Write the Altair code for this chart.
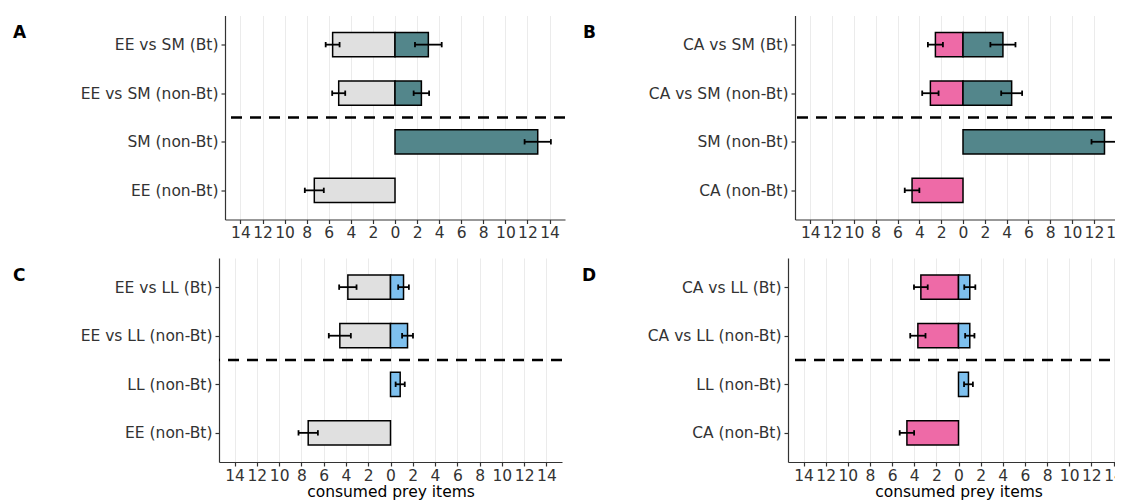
import altair as alt
import pandas as pd

# ---------------- data ----------------
species_all = ["EE", "SM", "CA", "LL"]
colors_all = ["#E0E0E0", "#53868B", "#EE6AA7", "#7EC0EE"]

# Panel A
a_labels = ["EE vs SM (Bt)", "EE vs SM (non-Bt)", "SM (non-Bt)", "EE (non-Bt)"]
a_left_mean = [-5.65, -5.10, None, -7.31]
a_left_se = [0.63, 0.59, None, 0.86]
a_right_mean = [3.02, 2.39, 12.93, None]
a_right_se = [1.21, 0.70, 1.19, None]

# Panel B
b_labels = ["CA vs SM (Bt)", "CA vs SM (non-Bt)", "SM (non-Bt)", "CA (non-Bt)"]
b_left_mean = [-2.53, -2.99, None, -4.67]
b_left_se = [0.69, 0.75, None, 0.67]
b_right_mean = [3.66, 4.46, 12.97, None]
b_right_se = [1.15, 0.96, 1.19, None]

# Panel C
c_labels = ["EE vs LL (Bt)", "EE vs LL (non-Bt)", "LL (non-Bt)", "EE (non-Bt)"]
c_left_mean = [-3.83, -4.55, None, -7.39]
c_left_se = [0.78, 0.99, None, 0.87]
c_right_mean = [1.17, 1.53, 0.87, None]
c_right_se = [0.48, 0.49, 0.41, None]

# Panel D
d_labels = ["CA vs LL (Bt)", "CA vs LL (non-Bt)", "LL (non-Bt)", "CA (non-Bt)"]
d_left_mean = [-3.40, -3.67, None, -4.66]
d_left_se = [0.62, 0.69, None, 0.65]
d_right_mean = [1.02, 1.02, 0.90, None]
d_right_se = [0.50, 0.42, 0.40, None]

x_ticks = list(range(-14, 15, 2))
x_limits = [-15.4, 15.4]
n_single = 2  # single-species rows below the dashed separator
FONT = "DejaVu Sans"


def panel(letter, labels, left_sp, left_m, left_se, right_sp, right_m, right_se,
          width, height, letter_x, xtitle):
    n = len(labels)
    recs = []
    for i, lab in enumerate(labels):
        pos = n - i
        for sp, m, se in ((left_sp, left_m[i], left_se[i]),
                          (right_sp, right_m[i], right_se[i])):
            if m is None:
                continue
            recs.append(dict(row=pos, label=lab, species=sp, mean=m,
                             lo=m - se, hi=m + se))
    df = pd.DataFrame(recs)

    label_expr = "[" + ",".join(["''"] + ["'" + l + "'" for l in reversed(labels)]) + "][datum.value]"
    xscale = alt.Scale(domain=x_limits, nice=False, zero=False)
    yscale = alt.Scale(domain=[0.4, n + 0.6], nice=False, zero=False)

    xaxis_kw = dict(values=x_ticks, labelExpr="format(abs(datum.value), 'd')",
                    grid=True, labelOverlap=False, labelFlush=False)
    if xtitle:
        xaxis = alt.Axis(title=xtitle, **xaxis_kw)
    else:
        xaxis = alt.Axis(title=None, **xaxis_kw)
    yaxis = alt.Axis(values=list(range(1, n + 1)), labelExpr=label_expr,
                     grid=False, title=None, labelOverlap=False, labelFlush=False,
                     labelPadding=3)

    base = alt.Chart(df).transform_calculate(
        y1="datum.row - 0.25", y2="datum.row + 0.25",
        c1="datum.row - 0.055", c2="datum.row + 0.055")

    bars = base.mark_bar(stroke="black", strokeWidth=1.5).encode(
        x=alt.X("mean:Q", scale=xscale, axis=xaxis),
        x2=alt.datum(0),
        y=alt.Y("y1:Q", scale=yscale, axis=yaxis),
        y2="y2:Q",
        color=alt.Color("species:N",
                        scale=alt.Scale(domain=species_all, range=colors_all),
                        legend=None),
    )
    err = base.mark_rule(color="black", strokeWidth=1.8).encode(
        x=alt.X("lo:Q", scale=xscale, axis=xaxis),
        x2="hi:Q",
        y=alt.Y("row:Q", scale=yscale, axis=yaxis),
    )
    cap_lo = base.mark_rule(color="black", strokeWidth=1.8).encode(
        x=alt.X("lo:Q", scale=xscale, axis=xaxis),
        y=alt.Y("c1:Q", scale=yscale, axis=yaxis),
        y2="c2:Q",
    )
    cap_hi = base.mark_rule(color="black", strokeWidth=1.8).encode(
        x=alt.X("hi:Q", scale=xscale, axis=xaxis),
        y=alt.Y("c1:Q", scale=yscale, axis=yaxis),
        y2="c2:Q",
    )
    sep = alt.Chart(pd.DataFrame({"sep": [n_single + 0.5]})).mark_rule(
        color="black", strokeWidth=2.5, strokeDash=[11, 8]).encode(
        y=alt.Y("sep:Q", scale=yscale, axis=yaxis))
    tag = alt.Chart(pd.DataFrame({"t": [letter]})).mark_text(
        align="left", baseline="alphabetic", font=FONT, fontSize=17,
        fontWeight="bold", color="black").encode(
        text="t:N", x=alt.value(letter_x), y=alt.value(22.5))

    return alt.layer(bars, err, cap_lo, cap_hi, sep, tag).properties(
        width=width, height=height)


def spacer(w):
    # invisible empty cell that only shifts the row (its own left part is padded away)
    return alt.Chart(pd.DataFrame({"s": [0]})).mark_point(size=0, opacity=0).encode(
        x=alt.value(0), y=alt.value(0)).properties(width=w, height=1)


A = panel("A", a_labels, "EE", a_left_mean, a_left_se, "SM", a_right_mean, a_right_se,
          340, 204, -212, None)
B = panel("B", b_labels, "CA", b_left_mean, b_left_se, "SM", b_right_mean, b_right_se,
          336, 204, -212, None)
C = panel("C", c_labels, "EE", c_left_mean, c_left_se, "LL", c_right_mean, c_right_se,
          343, 204, -206, "consumed prey items")
D = panel("D", d_labels, "CA", d_left_mean, d_left_se, "LL", d_right_mean, d_right_se,
          341, 204, -206, "consumed prey items")

row1 = alt.hconcat(spacer(4), A, B, spacing=16)
row2 = alt.hconcat(spacer(2), C, D, spacing=18)

chart = alt.vconcat(row1, row2, spacing=16.5).properties(
    padding={"left": -15, "top": 7.5, "right": -18, "bottom": 0}
).configure_view(stroke=None).configure_axis(
    labelFont=FONT, labelFontSize=15.5, labelColor="#333333",
    tickColor="#333333", tickSize=4, tickWidth=1.2,
    domainColor="#333333", domainWidth=1.2,
    gridColor="#EBEBEB", gridWidth=1,
    titleFont=FONT, titleFontSize=15.5, titleFontWeight="normal",
    titleColor="black", labelPadding=2, titlePadding=1,
)

chart.save("out.html", embed_options={"renderer": "svg", "actions": False})
